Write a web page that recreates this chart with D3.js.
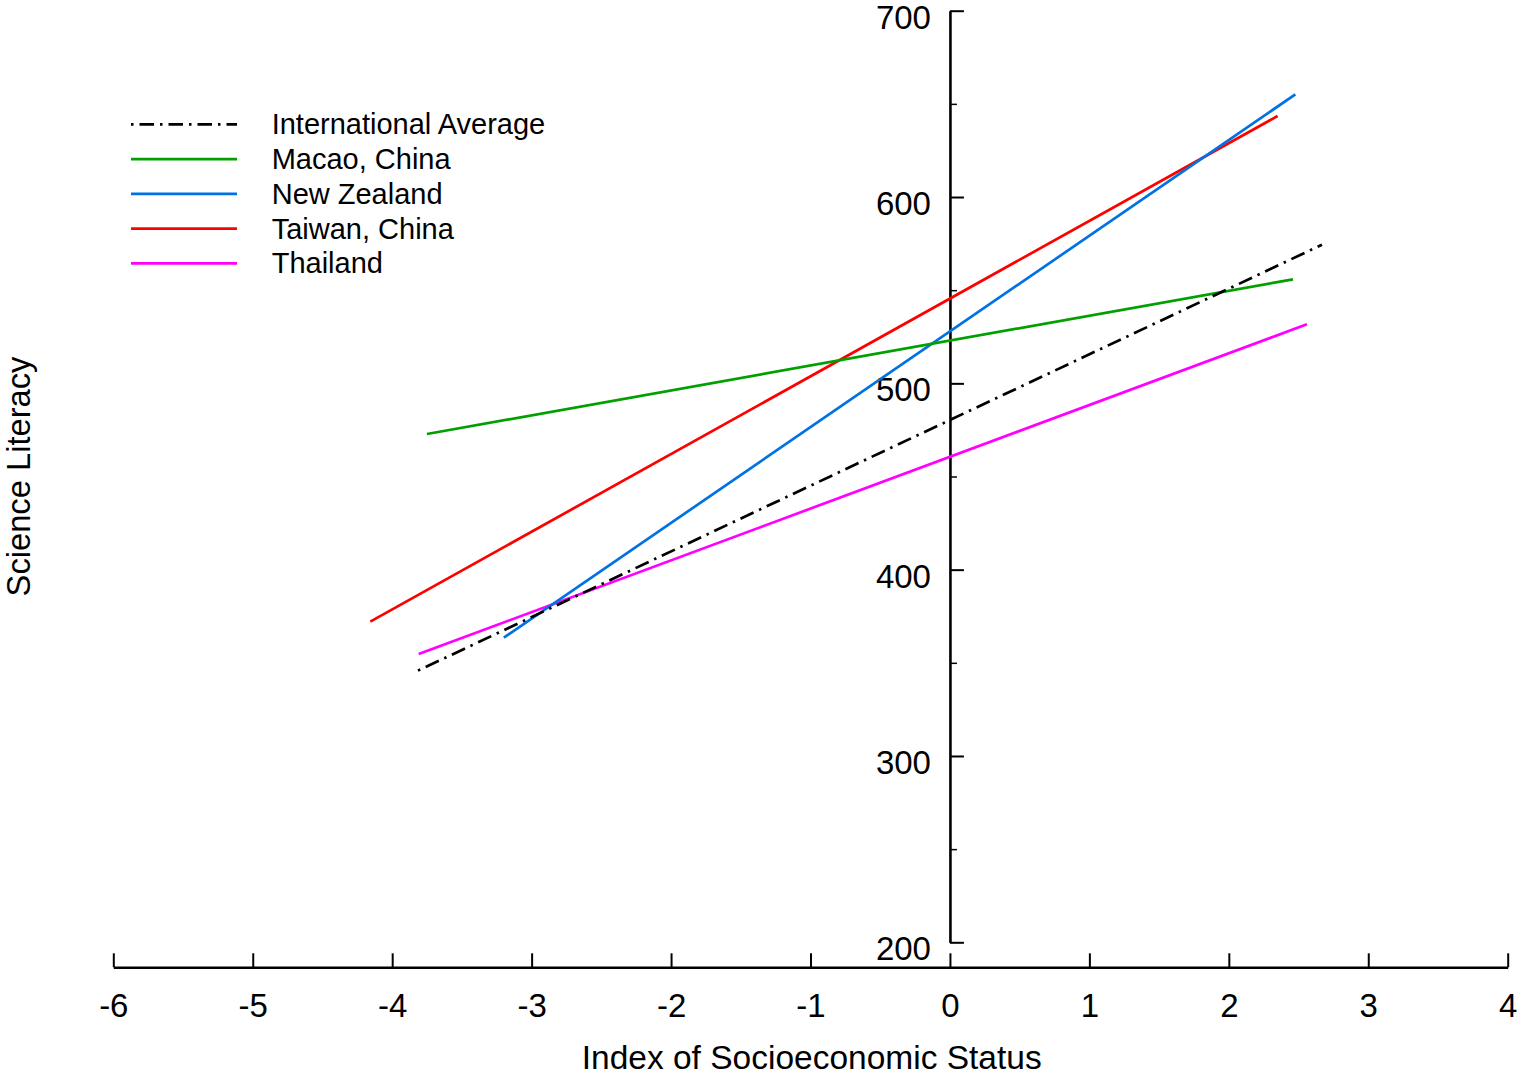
<!DOCTYPE html>
<html>
<head>
<meta charset="utf-8">
<script src="https://cdn.jsdelivr.net/npm/d3@7"></script>
<style>
  html, body { margin: 0; padding: 0; background: #fff; }
  svg { display: block; font-family: "Liberation Sans", Arial, Helvetica, sans-serif; }
</style>
</head>
<body>
<svg id="chart" width="1521" height="1075"></svg>
<script>
// ---- data ----
const seriesNames = ["International Average", "Macao, China", "New Zealand", "Taiwan, China", "Thailand"];
const seriesColors = ["#000000", "#00a000", "#0072e3", "#ff0000", "#ff00ff"];
const sesStart   = [-3.815, -3.751, -3.199, -4.157, -3.810];
const sesEnd     = [ 2.668,  2.460,  2.477,  2.350,  2.560];
const scoreStart = [ 345.8,  472.8,  363.5,  372.1,  354.7];
const scoreEnd   = [ 574.4,  555.8,  655.1,  643.5,  531.7];
const xTicks = [-6, -5, -4, -3, -2, -1, 0, 1, 2, 3, 4];
const yMajorTicks = [200, 300, 400, 500, 600, 700];
const yMinorTicks = [250, 350, 450, 550, 650];
const xTitle = "Index of Socioeconomic Status";
const yTitle = "Science Literacy";

// ---- layout ----
const svg = d3.select("#chart");
const x = d3.scaleLinear().domain([-6, 4]).range([113.3, 1507.7]);
const y = d3.scaleLinear().domain([200, 700]).range([942.3, 10.7]);
const xAxisY = 967.3;
const yAxisX = x(0);

// x axis
const gx = svg.append("g").attr("transform", `translate(0,${xAxisY})`)
  .call(d3.axisBottom(x).tickValues(xTicks).tickSize(-14).tickSizeOuter(0).tickFormat(d3.format("d")));
gx.select(".domain").attr("stroke", "#000").attr("stroke-width", 2.6);
gx.selectAll(".tick line").attr("stroke", "#000").attr("stroke-width", 2);
gx.selectAll(".tick text")
  .attr("y", 49.5).attr("dy", null)
  .attr("font-size", 33).attr("fill", "#000")
  .text(d => d < 0 ? "-" + Math.abs(d) : String(d));

// y axis minor ticks
const gyMinor = svg.append("g").attr("transform", `translate(${yAxisX},0)`)
  .call(d3.axisRight(y).tickValues(yMinorTicks).tickSize(7).tickSizeOuter(0).tickFormat(""));
gyMinor.select(".domain").remove();
gyMinor.selectAll(".tick line").attr("stroke", "#000").attr("stroke-width", 1.5);

// y axis major
const gy = svg.append("g").attr("transform", `translate(${yAxisX},0)`)
  .call(d3.axisRight(y).tickValues(yMajorTicks).tickSize(14).tickSizeOuter(0).tickFormat(d3.format("d")));
gy.select(".domain").attr("stroke", "#000").attr("stroke-width", 2.6);
gy.selectAll(".tick line").attr("stroke", "#000").attr("stroke-width", 2);
gy.selectAll(".tick text")
  .attr("x", -19).attr("dy", null).attr("y", 17.6)
  .attr("text-anchor", "end")
  .attr("font-size", 33).attr("fill", "#000");

// axis titles
svg.append("text")
  .attr("x", 811.7).attr("y", 1069)
  .attr("text-anchor", "middle")
  .attr("font-size", 33.5).attr("fill", "#000")
  .text(xTitle);
svg.append("text")
  .attr("transform", "translate(30,476.5) rotate(-90)")
  .attr("text-anchor", "middle")
  .attr("font-size", 32.7).attr("fill", "#000")
  .text(yTitle);

// lines
const lineData = seriesNames.map((name, i) => ({
  name,
  color: seriesColors[i],
  pts: [[sesStart[i], scoreStart[i]], [sesEnd[i], scoreEnd[i]]]
}));
const lineGen = d3.line().x(d => x(d[0])).y(d => y(d[1]));
const drawOrder = [4, 3, 2, 1, 0];
svg.append("g").selectAll("path")
  .data(drawOrder.map(i => lineData[i]))
  .join("path")
  .attr("d", d => lineGen(d.pts))
  .attr("fill", "none")
  .attr("stroke", d => d.color)
  .attr("stroke-width", 2.7)
  .attr("stroke-dasharray", d => d.name === "International Average" ? "2.5,6,14.5,6" : null);

// legend
const legendX1 = 131, legendX2 = 237, legendTextX = 271.7, legendY0 = 124.3, legendStep = 34.75;
const leg = svg.append("g").selectAll("g")
  .data(lineData)
  .join("g")
  .attr("transform", (d, i) => `translate(0,${legendY0 + i * legendStep})`);
leg.append("line")
  .attr("x1", legendX1).attr("x2", legendX2).attr("y1", 0).attr("y2", 0)
  .attr("stroke", d => d.color)
  .attr("stroke-width", 2.7)
  .attr("stroke-dasharray", d => d.name === "International Average" ? "2.5,6,14.5,6" : null);
leg.append("text")
  .attr("x", legendTextX).attr("y", 10)
  .attr("font-size", 29).attr("fill", "#000")
  .text(d => d.name);
</script>
</body>
</html>
